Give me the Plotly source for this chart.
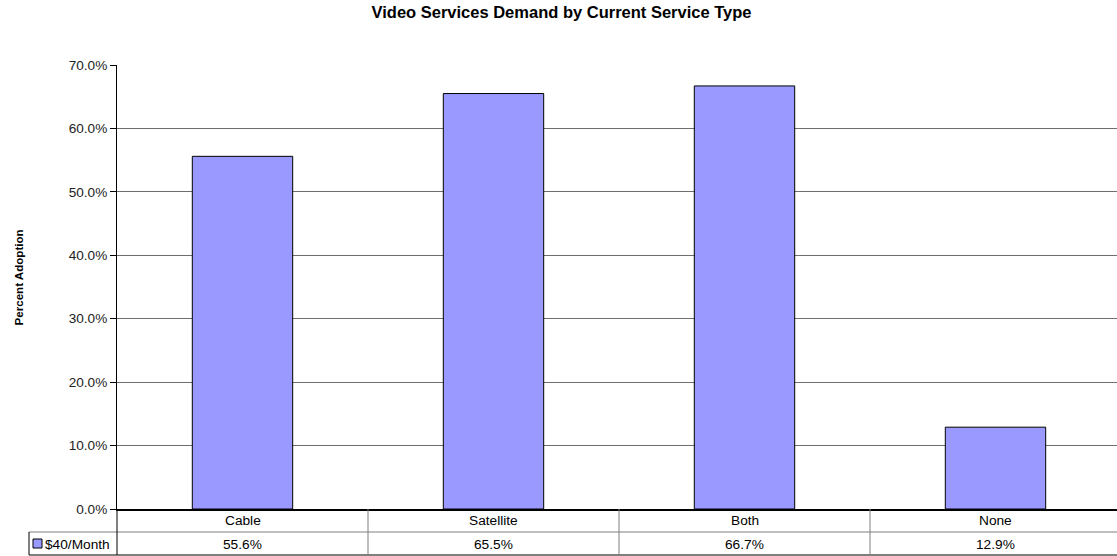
import plotly.graph_objects as go

# Survey results: share adopting the $40/month video service, by current service type
categories = ["Cable", "Satellite", "Both", "None"]
adoption_40 = [55.6, 65.5, 66.7, 12.9]
series_name = "$40/Month"
y_ticks = [0, 10, 20, 30, 40, 50, 60, 70]
y_tick_labels = [f"{t:.1f}%" for t in y_ticks]

W, H = 1117, 556
M_L, M_R, M_T, M_B = 117, 0, 65, 47
plot_w = W - M_L - M_R
plot_h = H - M_T - M_B
cat_px = 251  # pixel width of one category column in the data table

FONT = "Liberation Sans, Arial, sans-serif"
BAR_FILL = "#9999FF"
GRID = "#6e6e6e"
TABLE_LINE = "#7f7f7f"
TXT = 13.7


def py(px):
    """pixel row -> paper y"""
    return (H - M_B - px) / plot_h


def pxx(px):
    """pixel column -> paper x"""
    return (px - M_L) / plot_w


fig = go.Figure()
fig.add_trace(go.Bar(
    x=list(range(len(categories))),
    y=adoption_40,
    name=series_name,
    width=0.4,
    marker=dict(color=BAR_FILL, line=dict(color="black", width=1)),
    showlegend=False,
    hoverinfo="skip",
))

row_mid_y = py(532)
table_bot_y = py(555)

shapes = []
# table horizontal rules
shapes.append(dict(type="line", xref="paper", yref="paper", x0=pxx(29), x1=1.0,
                   y0=row_mid_y, y1=row_mid_y, line=dict(color=TABLE_LINE, width=1)))
shapes.append(dict(type="line", xref="paper", yref="paper", x0=pxx(29), x1=1.0,
                   y0=table_bot_y, y1=table_bot_y, line=dict(color="black", width=1)))
# legend cell left edge
shapes.append(dict(type="line", xref="paper", yref="paper", x0=pxx(29), x1=pxx(29),
                   y0=row_mid_y, y1=table_bot_y, line=dict(color="black", width=1)))
# continuation of the value axis through the table
shapes.append(dict(type="line", xref="paper", yref="paper", x0=0, x1=0,
                   y0=0, y1=table_bot_y, line=dict(color="black", width=1)))
# column separators
for i in range(len(categories) - 1):
    shapes.append(dict(type="line", xref="x", yref="paper", x0=i + 0.5, x1=i + 0.5,
                       y0=0, y1=table_bot_y, line=dict(color=TABLE_LINE, width=1)))
# legend key
shapes.append(dict(type="rect", xref="paper", yref="paper", x0=pxx(33), x1=pxx(42),
                   y0=py(548), y1=py(539), fillcolor=BAR_FILL,
                   line=dict(color="black", width=1)))

annotations = []
for i, (c, v) in enumerate(zip(categories, adoption_40)):
    annotations.append(dict(x=i, xref="x", y=py(520.5), yref="paper", text=c,
                            showarrow=False, xanchor="center", yanchor="middle",
                            font=dict(family=FONT, size=TXT, color="black")))
    annotations.append(dict(x=i, xref="x", y=py(544), yref="paper", text=f"{v:.1f}%",
                            showarrow=False, xanchor="center", yanchor="middle",
                            font=dict(family=FONT, size=TXT, color="black")))
annotations.append(dict(x=pxx(43), xref="paper", y=py(544), yref="paper", text=series_name,
                        showarrow=False, xanchor="left", yanchor="middle",
                        font=dict(family=FONT, size=TXT, color="black")))
annotations.append(dict(x=pxx(17.5), xref="paper", y=py(278), yref="paper",
                        text="<b>Percent Adoption</b>", textangle=-90,
                        showarrow=False, xanchor="center", yanchor="middle",
                        font=dict(family=FONT, size=11.6, color="black")))

fig.update_layout(
    width=W, height=H,
    margin=dict(l=M_L, r=M_R, t=M_T, b=M_B, pad=0),
    paper_bgcolor="white", plot_bgcolor="white",
    title=dict(text="<b>Video Services Demand by Current Service Type</b>",
               x=561.5 / W, xref="container", xanchor="center",
               y=1 - 12 / H, yanchor="middle",
               font=dict(family=FONT, size=16.5, color="black")),
    xaxis=dict(range=[-0.5, -0.5 + plot_w / cat_px], showticklabels=False,
               showgrid=False, zeroline=False, ticks="",
               showline=True, linecolor="black", linewidth=2, fixedrange=True),
    yaxis=dict(range=[0, 70], tickmode="array", tickvals=y_ticks, ticktext=y_tick_labels,
               showgrid=True, gridcolor=GRID, gridwidth=1, zeroline=False,
               showline=True, linecolor="black", linewidth=1,
               ticks="outside", ticklen=6, tickcolor="black",
               tickfont=dict(family=FONT, size=13.6, color="#222"), fixedrange=True),
    shapes=shapes,
    annotations=annotations,
    bargap=0.6,
)

fig.write_html("out.html")
